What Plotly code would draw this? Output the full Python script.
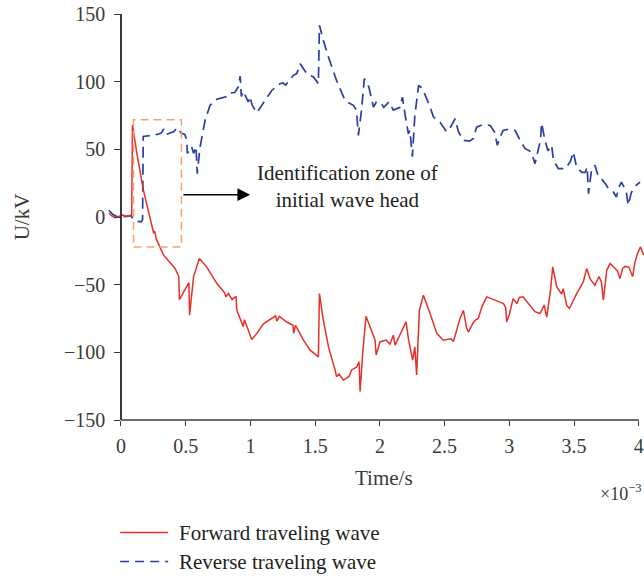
import plotly.graph_objects as go

# Time axis is in milliseconds (labels carry the ×10^-3 s factor), voltage in kV.
fwd_t = [-0.093, -0.073, -0.045, -0.016, 0.013, 0.042, 0.071, 0.083, 0.089, 0.123, 0.173, 0.225,
         0.253, 0.261, 0.272, 0.328, 0.367, 0.418, 0.447, 0.451, 0.525, 0.530, 0.561, 0.606,
         0.663, 0.740, 0.801, 0.810, 0.830, 0.858, 0.889, 0.895, 0.945, 0.954, 1.010, 1.050, 1.100,
         1.177, 1.195, 1.204, 1.223, 1.281, 1.329, 1.334, 1.348, 1.410, 1.461, 1.525, 1.533, 1.563,
         1.603, 1.654, 1.665, 1.684, 1.718, 1.761, 1.781, 1.819, 1.839, 1.847, 1.867, 1.893, 1.937,
         1.963, 1.971, 2.001, 2.049, 2.078, 2.104, 2.117, 2.145, 2.202, 2.222, 2.253, 2.270, 2.284,
         2.305, 2.336, 2.388, 2.439, 2.490, 2.549, 2.568, 2.593, 2.619, 2.645, 2.670, 2.683, 2.722,
         2.741, 2.760, 2.789, 2.825, 2.904, 2.954, 2.972, 2.979, 3.000, 3.029, 3.058, 3.077, 3.106, 3.154,
         3.198, 3.237, 3.269, 3.289, 3.318, 3.335, 3.366, 3.404, 3.416, 3.442, 3.464, 3.520, 3.571,
         3.597, 3.625, 3.661, 3.692, 3.711, 3.726, 3.752, 3.778, 3.817, 3.836, 3.854, 3.875, 3.894,
         3.923, 3.952, 3.971, 3.990, 4.013, 4.038]
fwd_u = [3.0, 1.0, -0.5, 0.5, 1.5, 0.5, 1.0, 1.5, 68.0, 47.0, 20.0, 0.0,
         -12.0, -10.5, -16.0, -28.0, -32.0, -38.0, -44.0, -61.0, -48.5, -72.6, -44.0, -30.7,
         -37.0, -49.0, -56.0, -59.0, -56.5, -61.0, -58.6, -69.0, -81.0, -76.0, -90.6, -86.0, -79.0,
         -74.0, -73.0, -77.0, -73.5, -77.6, -80.0, -86.0, -80.0, -91.0, -98.4, -103.4, -56.6, -76.0,
         -96.0, -113.0, -118.0, -116.0, -120.5, -118.0, -113.0, -111.0, -107.0, -129.0, -101.0, -73.3, -83.6,
         -91.0, -102.0, -92.3, -91.0, -94.0, -87.3, -94.7, -89.0, -77.5, -91.0, -105.8, -96.0, -116.8,
         -69.0, -57.8, -71.3, -86.0, -91.0, -90.0, -92.0, -83.6, -75.0, -69.0, -82.0, -85.0, -78.0,
         -76.0, -75.0, -66.0, -59.0, -62.0, -64.0, -67.0, -77.5, -72.0, -60.3, -64.0, -59.5, -59.0, -65.0,
         -70.0, -71.3, -65.0, -74.0, -54.0, -36.9, -51.7, -57.0, -52.9, -65.2, -67.6, -56.6, -48.0,
         -38.1, -46.0, -50.4, -44.0, -48.0, -61.5, -39.4, -34.4, -38.0, -40.0, -45.5, -38.0, -36.5,
         -37.0, -44.0, -33.0, -27.0, -22.1, -28.3]

rev_t = [-0.093, -0.064, -0.035, -0.006, 0.042, 0.080, 0.090, 0.109, 0.157, 0.167, 0.172, 0.205, 0.244,
         0.282, 0.311, 0.330, 0.349, 0.407, 0.436, 0.465, 0.493, 0.508, 0.513, 0.546, 0.561, 0.580, 0.589,
         0.611, 0.650, 0.688, 0.740, 0.791, 0.820, 0.843, 0.878, 0.906, 0.921, 0.930, 0.945, 0.964,
         0.984, 0.998, 1.012, 1.049, 1.099, 1.165, 1.229, 1.252, 1.271, 1.332, 1.358, 1.384, 1.435,
         1.487, 1.525, 1.533, 1.563, 1.603, 1.665, 1.731, 1.795, 1.819, 1.834, 1.857, 1.880, 1.915,
         1.950, 1.973, 2.011, 2.030, 2.069, 2.104, 2.155, 2.174, 2.194, 2.220, 2.232, 2.251, 2.270, 2.299,
         2.328, 2.388, 2.413, 2.465, 2.515, 2.549, 2.581, 2.607, 2.645, 2.693, 2.722, 2.747, 2.789,
         2.851, 2.885, 2.907, 2.933, 2.952, 3.000, 3.044, 3.087, 3.122, 3.154, 3.173, 3.198, 3.221,
         3.241, 3.249, 3.274, 3.298, 3.327, 3.340, 3.379, 3.433, 3.471, 3.494, 3.519, 3.559, 3.586,
         3.601, 3.611, 3.635, 3.661, 3.687, 3.711, 3.750, 3.764, 3.803, 3.827, 3.846, 3.865, 3.903,
         3.918, 3.942, 3.980, 4.009]
rev_u = [5.0, 2.0, 0.5, 0.0, 0.5, 1.0, -1.0, -3.0, -3.5, -2.0, 59.5, 60.0, 60.5,
         61.0, 62.0, 65.0, 61.0, 63.0, 66.0, 62.0, 61.0, 57.0, 47.0, 52.0, 47.0, 52.0, 32.0,
         51.7, 71.5, 82.5, 87.0, 88.0, 89.0, 91.6, 92.0, 96.0, 104.0, 89.0, 93.0, 89.0,
         85.0, 89.0, 83.0, 77.0, 84.0, 93.5, 98.5, 99.0, 97.5, 104.7, 106.0, 113.3, 106.0,
         103.5, 98.5, 141.7, 130.6, 118.0, 101.0, 86.0, 82.5, 79.0, 60.3, 78.0, 102.3, 96.0,
         81.3, 85.0, 84.0, 81.0, 85.0, 79.0, 81.0, 88.6, 76.0, 61.5, 64.0, 44.5, 75.0, 97.2,
         95.0, 81.3, 74.0, 70.0, 63.0, 67.0, 72.6, 63.0, 56.6, 56.0, 58.0, 66.4, 68.0,
         67.7, 63.0, 53.0, 60.0, 64.0, 65.0, 64.0, 56.0, 50.5, 49.0, 47.0, 39.4, 50.0,
         57.0, 69.4, 57.0, 49.0, 53.0, 42.0, 35.7, 35.7, 41.0, 48.0, 37.0, 33.0, 33.0,
         37.0, 17.3, 35.0, 38.2, 30.0, 28.3, 23.5, 21.0, 18.5, 14.8, 22.0, 25.8, 19.0,
         8.6, 18.0, 23.4, 25.8]

x_ticks = [0, 0.5, 1, 1.5, 2, 2.5, 3, 3.5, 4]
x_tick_text = ["0", "0.5", "1", "1.5", "2", "2.5", "3", "3.5", "4"]
y_ticks = [-150, -100, -50, 0, 50, 100, 150]

series_names = ["Forward traveling wave", "Reverse traveling wave"]
zone_t = [0.097, 0.467]      # identification zone, time span
zone_u = [-22.1, 71.9]       # identification zone, voltage span

# ---- layout geometry ----
FIG_W, FIG_H = 644, 576
M_L, M_R, M_T, M_B = 107.85, 0, 14, 156
X_RANGE = [-0.1, 4.04]
Y_RANGE = [-150, 150]
PLOT_W = FIG_W - M_L - M_R
PLOT_H = FIG_H - M_T - M_B

SERIF = "Liberation Serif"
RED = "#e4312b"
BLUE = "#2b3f9e"
ORANGE = "#f4a46a"
AXIS = "#3a3a3a"
TEXT = "#231f20"


def px_x(px):
    return (px - M_L) / PLOT_W


def px_y(py):
    return (FIG_H - M_B - py) / PLOT_H


fig = go.Figure()
fig.add_trace(go.Scatter(x=rev_t, y=rev_u, mode="lines", name=series_names[1],
                         line=dict(color=BLUE, width=1.7, dash="11px,6px"),
                         showlegend=False))
fig.add_trace(go.Scatter(x=fwd_t, y=fwd_u, mode="lines", name=series_names[0],
                         line=dict(color=RED, width=1.5),
                         showlegend=False))

y_axis_pos = (0 - X_RANGE[0]) / (X_RANGE[1] - X_RANGE[0])

fig.update_layout(
    width=FIG_W, height=FIG_H,
    margin=dict(l=M_L, r=M_R, t=M_T, b=M_B, pad=0),
    paper_bgcolor="white", plot_bgcolor="white",
    font=dict(family=SERIF, size=20, color=TEXT),
    xaxis=dict(range=X_RANGE, tickvals=x_ticks, ticktext=x_tick_text,
               showgrid=False, zeroline=False, showline=False,
               ticks="outside", ticklen=5, tickwidth=1.3, tickcolor=AXIS,
               tickfont=dict(family=SERIF, size=20, color=AXIS),
               ticklabelstandoff=3),
    yaxis=dict(range=Y_RANGE, tickvals=y_ticks, anchor="free", position=y_axis_pos,
               showgrid=False, zeroline=False, showline=True, linecolor=AXIS,
               linewidth=1.5, ticks="outside", ticklen=6, tickwidth=1.3,
               tickcolor=AXIS, tickfont=dict(family=SERIF, size=20, color=AXIS),
               ticklabelstandoff=5,
               title=dict(text="U/kV", standoff=28,
                          font=dict(family=SERIF, size=21, color=AXIS))),
)

shapes = [
    # bottom axis line, spanning the labelled time range only
    dict(type="line", xref="x", yref="paper", x0=x_ticks[0], x1=x_ticks[-1], y0=0, y1=0,
         line=dict(color=AXIS, width=1.5)),
    # identification zone
    dict(type="rect", xref="x", yref="y", x0=zone_t[0], x1=zone_t[1],
         y0=zone_u[0], y1=zone_u[1], line=dict(color=ORANGE, width=1.5, dash="8px,5px")),
    # legend samples
    dict(type="line", xref="paper", yref="paper", x0=px_x(120), x1=px_x(168),
         y0=px_y(532.5), y1=px_y(532.5), line=dict(color=RED, width=1.5)),
    dict(type="line", xref="paper", yref="paper", x0=px_x(120), x1=px_x(168),
         y0=px_y(561.5), y1=px_y(561.5), line=dict(color=BLUE, width=1.7, dash="9px,6px")),
]
fig.update_layout(shapes=shapes)

annotations = [
    # arrow from the zone to its caption (label-less annotation, arrow only)
    dict(x=0.998, y=16.5, ax=zone_t[1], ay=16.5, xref="x", yref="y", axref="x", ayref="y",
         text="\u00a0", font=dict(size=2), showarrow=True, arrowhead=2, arrowsize=1.7,
         arrowwidth=1.5, arrowcolor="black"),
    dict(x=1.747, y=22.5, xref="x", yref="y", showarrow=False,
         text="Identification zone of<br>initial wave head",
         font=dict(family=SERIF, size=21, color=TEXT), align="center"),
    # x-axis title, centred under the labelled range
    dict(x=(x_ticks[0] + x_ticks[-1]) / 2 + 0.03, y=px_y(478), xref="x", yref="paper",
         showarrow=False, text="Time/s", font=dict(family=SERIF, size=21, color=AXIS),
         xanchor="center", yanchor="middle"),
    dict(x=1.0, y=px_y(492), xref="paper", yref="paper", showarrow=False,
         text="×10<sup>−3</sup>", font=dict(family=SERIF, size=18, color=AXIS),
         xanchor="right", yanchor="middle"),
    # legend labels
    dict(x=px_x(177), y=px_y(532.5), xref="paper", yref="paper", showarrow=False,
         text=series_names[0], font=dict(family=SERIF, size=21, color=TEXT),
         xanchor="left", yanchor="middle"),
    dict(x=px_x(177), y=px_y(561.5), xref="paper", yref="paper", showarrow=False,
         text=series_names[1], font=dict(family=SERIF, size=21, color=TEXT),
         xanchor="left", yanchor="middle"),
]
fig.update_layout(annotations=annotations)

fig.write_html("out.html")
